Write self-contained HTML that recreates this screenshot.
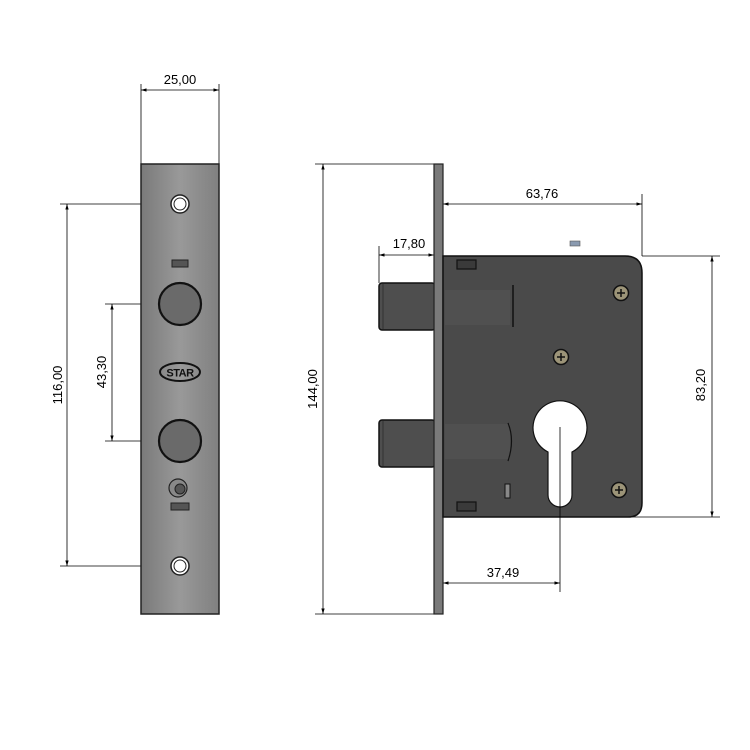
<!DOCTYPE html>
<html><head><meta charset="utf-8"><style>
html,body{margin:0;padding:0;background:#fff;}
svg{display:block;font-family:"Liberation Sans",sans-serif;}
</style></head><body>
<svg width="750" height="750" viewBox="0 0 750 750" xmlns="http://www.w3.org/2000/svg">
<defs>
<marker id="a" viewBox="0 0 10 10" refX="10" refY="5" markerWidth="7" markerHeight="7" orient="auto-start-reverse"><path d="M0,2 L10,5 L0,8 z" fill="#000"/></marker>
<linearGradient id="fp" x1="0" x2="1"><stop offset="0" stop-color="#7a7a7a"/><stop offset="0.5" stop-color="#999"/><stop offset="1" stop-color="#808080"/></linearGradient>
</defs>
<g stroke="#000" stroke-width="0.8" fill="none">
<!-- 25,00 -->
<line x1="141" y1="84" x2="141" y2="164"/><line x1="219" y1="84" x2="219" y2="164"/>
<line x1="141" y1="90" x2="219" y2="90" marker-start="url(#a)" marker-end="url(#a)"/>
<!-- 116,00 -->
<line x1="60" y1="204" x2="180" y2="204"/><line x1="60" y1="566" x2="180" y2="566"/>
<line x1="67" y1="204" x2="67" y2="566" marker-start="url(#a)" marker-end="url(#a)"/>
<!-- 43,30 -->
<line x1="105" y1="304" x2="180" y2="304"/><line x1="105" y1="441" x2="180" y2="441"/>
<line x1="112" y1="304" x2="112" y2="441" marker-start="url(#a)" marker-end="url(#a)"/>
<!-- 144,00 -->
<line x1="315" y1="164" x2="434" y2="164"/><line x1="315" y1="614" x2="434" y2="614"/>
<line x1="323" y1="164" x2="323" y2="614" marker-start="url(#a)" marker-end="url(#a)"/>
<!-- 17,80 -->
<line x1="379" y1="246" x2="379" y2="283"/>
<line x1="379" y1="255" x2="434" y2="255" marker-start="url(#a)" marker-end="url(#a)"/>
<!-- 63,76 -->
<line x1="642" y1="194" x2="642" y2="256"/>
<line x1="443" y1="204" x2="642" y2="204" marker-start="url(#a)" marker-end="url(#a)"/>
<!-- 83,20 -->
<line x1="642" y1="256" x2="720" y2="256"/><line x1="630" y1="517" x2="720" y2="517"/>
<line x1="712" y1="256" x2="712" y2="517" marker-start="url(#a)" marker-end="url(#a)"/>
<!-- 37,49 -->
<line x1="443" y1="583" x2="560" y2="583" marker-start="url(#a)" marker-end="url(#a)"/>
</g>
<g font-size="13" fill="#000">
<text x="180" y="84" text-anchor="middle">25,00</text>
<text x="409" y="248" text-anchor="middle">17,80</text>
<text x="542" y="198" text-anchor="middle">63,76</text>
<text x="503" y="577" text-anchor="middle">37,49</text>
<text transform="translate(62,385) rotate(-90)" text-anchor="middle">116,00</text>
<text transform="translate(106,372) rotate(-90)" text-anchor="middle">43,30</text>
<text transform="translate(317,389) rotate(-90)" text-anchor="middle">144,00</text>
<text transform="translate(705,385) rotate(-90)" text-anchor="middle">83,20</text>
</g>
<!-- faceplate -->
<rect x="141" y="164" width="78" height="450" fill="url(#fp)" stroke="#222" stroke-width="1.5"/>
<circle cx="180" cy="204" r="9" fill="#fff" stroke="#222" stroke-width="1.5"/><circle cx="180" cy="204" r="6" fill="#fff" stroke="#222"/>
<circle cx="180" cy="566" r="9" fill="#fff" stroke="#222" stroke-width="1.5"/><circle cx="180" cy="566" r="6" fill="#fff" stroke="#222"/>
<rect x="172" y="260" width="16" height="7" fill="#555" stroke="#222"/>
<circle cx="180" cy="304" r="21" fill="#6a6a6a" stroke="#111" stroke-width="2.2"/>
<circle cx="180" cy="441" r="21" fill="#6a6a6a" stroke="#111" stroke-width="2.2"/>
<ellipse cx="180" cy="372" rx="20" ry="9" fill="none" stroke="#111" stroke-width="2"/>
<text x="180" y="376.5" font-size="11" font-weight="bold" text-anchor="middle" fill="#111" letter-spacing="-0.5">STAR</text>
<circle cx="178" cy="488" r="9" fill="#888" stroke="#222" stroke-width="1.2"/><circle cx="180" cy="489" r="5" fill="#555" stroke="#222"/>
<rect x="171" y="503" width="18" height="7" fill="#555" stroke="#222"/>
<g stroke="#000" stroke-width="0.8"><line x1="180" y1="304" x2="180" y2="304"/></g>
<!-- right view -->
<rect x="379" y="283" width="56" height="47" rx="3" fill="#4e4e4e" stroke="#111" stroke-width="1.5"/>
<rect x="379" y="420" width="56" height="47" rx="3" fill="#4e4e4e" stroke="#111" stroke-width="1.5"/>
<line x1="383" y1="284" x2="383" y2="329" stroke="#333"/><line x1="383" y1="421" x2="383" y2="466" stroke="#333"/>
<rect x="434" y="164" width="9" height="450" fill="#7a7a7a" stroke="#222" stroke-width="1.2"/>
<path d="M443,256 H625 Q642,256 642,273 V503 Q642,517 628,517 H443 Z" fill="#4a4a4a" stroke="#111" stroke-width="1.5"/>
<rect x="445" y="290" width="65" height="35" fill="#555" opacity="0.6"/>
<line x1="513" y1="285" x2="513" y2="327" stroke="#111" stroke-width="1.5"/>
<rect x="445" y="424" width="65" height="35" fill="#555" opacity="0.6"/>
<path d="M508,423 Q515,440 508,461" fill="none" stroke="#111" stroke-width="1.2"/>
<rect x="457" y="260" width="19" height="9" fill="#3a3a3a" stroke="#111" stroke-width="1.2"/>
<rect x="457" y="502" width="19" height="9" fill="#3a3a3a" stroke="#111" stroke-width="1.2"/>
<rect x="505" y="484" width="5" height="14" fill="#888" stroke="#111"/>
<rect x="570" y="241" width="10" height="5" fill="#8a9ab0" stroke="#555" stroke-width="0.6"/>
<path d="M548,452 A27,27 0 1 1 572,452 V495 A12,12 0 0 1 548,495 Z" fill="#fff" stroke="#111" stroke-width="1.2"/>
<line x1="560" y1="427" x2="560" y2="592" stroke="#000" stroke-width="0.8"/>
<g stroke="#111" stroke-width="1.5">
<circle cx="621" cy="293" r="7.5" fill="#9c9478"/><path d="M617,293h8M621,289v8"/>
<circle cx="561" cy="357" r="7.5" fill="#9c9478"/><path d="M557,357h8M561,353v8"/>
<circle cx="619" cy="490" r="7.5" fill="#9c9478"/><path d="M615,490h8M619,486v8"/>
</g>
</svg>
</body></html>
